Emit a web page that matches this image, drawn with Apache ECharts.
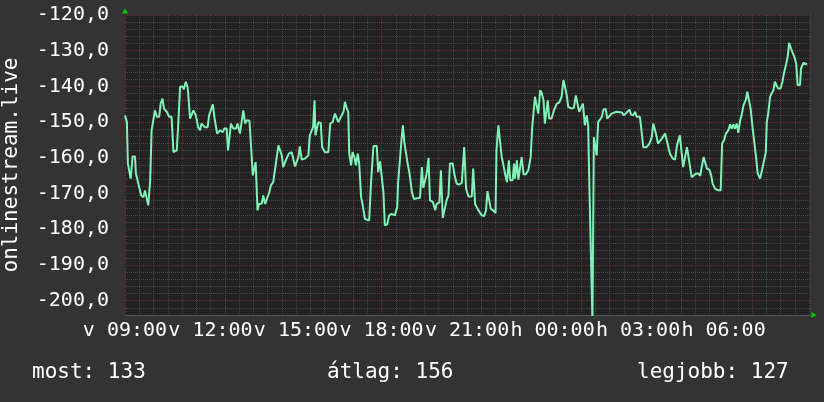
<!DOCTYPE html>
<html>
<head>
<meta charset="utf-8">
<script src="https://cdn.jsdelivr.net/npm/echarts@6/dist/echarts.min.js"></script>
<style>
  html, body { margin: 0; padding: 0; background: #333333; }
  #chart { width: 824px; height: 402px; }
</style>
</head>
<body>
<div id="chart"></div>
<script>
// minutes since 09:00 (Sunday)
const minutes = [0,4,6,12,16,21,23,28,34,39,42,46,49,51,53,56,60,63,67,72,75,79,82,88,93,98,102,109,112,116,121,124,128,132,137,140,144,149,154,158,161,168,174,177,181,185,188,192,194,200,206,209,214,217,221,223,228,234,237,242,246,249,253,256,262,265,269,272,275,279,282,288,291,295,300,304,307,312,317,323,326,330,333,337,340,345,351,354,358,361,365,368,372,379,386,389,393,396,399,401,407,412,415,421,428,432,437,442,446,449,453,456,460,463,467,470,472,476,479,483,486,490,493,497,500,505,509,514,518,523,530,533,537,540,544,547,552,556,561,568,573,575,579,582,585,588,592,595,599,604,608,615,621,625,628,632,635,639,642,648,653,656,662,665,669,672,677,681,684,690,693,698,703,709,712,714,718,723,730,733,737,744,751,756,760,763,767,770,775,780,782,786,789,793,796,800,804,808,811,816,819,821,825,828,832,835,839,844,849,854,857,861,863,867,870,874,877,881,884,888,890,893,898,903,909,914,919,923,927,930,933,940,945,949,952,956,959,964,966,968,972,975,977,981,984,987,991,993,996,1000,1004,1007,1012,1015,1019,1024,1035,1046,1050,1056,1062,1065,1070,1074,1077,1084,1088,1091,1098,1104,1109,1112,1117,1122,1126,1130,1133,1137,1141,1144,1147,1153,1158,1162,1165,1168,1172,1175,1179,1183,1186,1189,1193,1196,1202,1207,1211,1214,1218,1221,1225,1230,1234,1237,1242,1249,1254,1257,1261,1265,1270,1274,1277,1281,1284,1288,1291,1295,1298,1302,1307,1310,1314,1317,1321,1325,1328,1332,1337,1340,1344,1349,1351,1354,1358,1361,1365,1368,1372,1375,1380,1384,1387,1392,1395,1398,1402,1405,1409,1413,1416,1421,1423,1428,1432,1436];

const values = [
-148.1,-150.0,-161.6,-165.8,-159.6,-159.6,-164.4,-167.2,-170.5,-171,-169.1,-169.1,-173.3,-173.3,-166.3,-152.3,-151.8,-146.7,-148.5,-148.5,
-144.8,-143.4,-146.2,-147.1,-148.5,-148.5,-158.4,-157.9,-150.9,-140.1,-140,-140.8,-138.7,-140.3,-149.0,-149.0,-146.7,-148.1,-151.4,-152.3,
-150.4,-151.4,-151.4,-148.1,-148,-145.0,-148.5,-148.5,-153.2,-152.3,-152.8,-151.8,-151.8,-157.9,-157.9,-150.4,-151.8,-151.8,-150.4,-153.2,
-153.2,-146.7,-150.4,-149.5,-149.6,-149.6,-164.9,-164.9,-161.2,-174.7,-172.9,-172.8,-170.5,-172.9,-171,-169.6,-167.7,-166.8,-162.1,-156.5,
-156.3,-159.3,-162.6,-162.8,-160.2,-158.8,-158.4,-158.6,-162.4,-162.4,-159.8,-156.8,-160.5,-160.2,-159.3,-153.7,-153.3,-151.4,-143.9,-153.7,
-150,-150.2,-157,-158.4,-158.4,-150.4,-150,-147.6,-148.1,-150,-150.4,-148.1,-147.1,-144.3,-146.2,-147.1,-158.8,-162.1,-158.4,-159.8,
-162.1,-158.8,-161.6,-171,-172.9,-177.1,-177.5,-177.5,-166.8,-156.7,-156.7,-164,-161,-161,-169.6,-178.9,-178.6,-176.1,-175.7,-176.1,
-173.8,-166.8,-166.8,-155.1,-150.9,-155.6,-155.6,-161.6,-164.4,-169.6,-171.5,-171.3,-171.2,-162.6,-168.4,-168.4,-164.5,-160,-171.9,-172.3,
-174.7,-172.9,-172.5,-163.5,-176.8,-176.6,-171.9,-170.5,-161.6,-161.6,-164.4,-167.2,-167.5,-167,-167,-157,-168.6,-170.8,-170.8,-163,
-172.9,-174.7,-176.1,-176.3,-174.7,-169.3,-169.6,-174.3,-174.7,-175.5,-157.9,-150.9,-150.9,-159.8,-161.6,-164.4,-166.8,-160.7,-166.3,-166.3,
-161.6,-165.8,-160.7,-166.1,-166.1,-159.8,-164.6,-164.6,-163.5,-159.8,-151.8,-151.8,-142.9,-143.3,-147.6,-141.1,-141.8,-143.9,-150.4,-150.4,
-143.9,-149,-149,-146.7,-144.8,-144.5,-142.9,-138.2,-138.2,-142.5,-145.7,-146.2,-146,-142.5,-142.5,-147.1,-147.5,-144.8,-144.8,-150.9,
-148.1,-150.9,-164.4,-164.6,-206,-154.2,-154.2,-159.3,-150,-149.8,-148.5,-146.5,-146.3,-149,-148.5,-147.6,-147.1,-147.3,-148.1,-147.3,
-146.5,-147.8,-148.1,-147.1,-148.5,-148.5,-153.2,-157,-157,-156,-154.2,-150.4,-152.8,-156,-156,-154.6,-155,-153.2,-153.5,-157,
-158.8,-160.2,-160.5,-156.5,-156.8,-153.7,-158.8,-162.6,-162.6,-157,-157,-162.1,-165.4,-165,-164.4,-164.4,-165,-162.6,-159.8,-159.8,
-163,-163.3,-164.9,-167.2,-168.6,-169.1,-169.1,-156,-155.1,-153.2,-152.3,-150.6,-151.8,-150.6,-151.8,-150.4,-153,-149.5,-148.1,-145.3,
-143.7,-141.5,-141.5,-146.2,-151.4,-151.6,-159.3,-164.4,-165.8,-165.8,-161.6,-158.4,-150,-147.6,-142.9,-142,-141.1,-138.7,-139.2,-140.6,
-140.6,-138.7,-136.4,-133.6,-131.7,-127.8,-129.4,-129.6,-131.7,-133.6,-139.6,-139.6,-135,-133.4,-133.4,-133.8
];

// x tick labels every 3 hours
const xTickLabels = ['v 09:00','v 12:00','v 15:00','v 18:00','v 21:00','h 00:00','h 03:00','h 06:00'];
const yAxisTitle = 'onlinestream.live';
const statsLabels = ['most: 133', 'átlag: 156', 'legjobb: 127'];

const n = Math.min(minutes.length, values.length);
const seriesData = [];
for (let i = 0; i < n; i++) seriesData.push([minutes[i], values[i]]);

const MONO = '"DejaVu Sans Mono", monospace';
const MAJOR = '#6a3030';
const MINOR = '#484848';

const chart = echarts.init(document.getElementById('chart'), null, { renderer: 'canvas' });
chart.setOption({
  animation: false,
  backgroundColor: '#333333',
  grid: { left: 125, right: 14, top: 15, bottom: 87, show: true, backgroundColor: '#222222', borderWidth: 0 },
  xAxis: {
    type: 'value',
    min: 0, max: 1442, interval: 30,
    axisLine: { show: true, lineStyle: { color: '#555555', width: 1 } },
    axisTick: { show: false },
    splitLine: { show: true, lineStyle: { color: [MAJOR, MINOR], type: [1, 1], width: 1 } },
    axisLabel: {
      show: true, color: '#ffffff', fontFamily: MONO, fontSize: 20, margin: 6,
      hideOverlap: false, showMinLabel: true, showMaxLabel: false,
      formatter: function (v) {
        if (v % 180 !== 0) return '';
        const idx = v / 180;
        return idx < xTickLabels.length ? xTickLabels[idx] : '';
      }
    }
  },
  yAxis: {
    type: 'value',
    min: -204, max: -120, interval: 2,
    axisLine: { show: false },
    axisTick: { show: false },
    splitLine: { show: true, lineStyle: { color: [MINOR, MINOR, MAJOR, MINOR, MINOR], type: [1, 1], width: 1 } },
    axisLabel: {
      show: true, color: '#ffffff', fontFamily: MONO, fontSize: 20, margin: 16,
      hideOverlap: false,
      formatter: function (v) {
        if (Math.abs(v % 10) > 0.001) return '';
        return v.toFixed(1).replace('.', ',');
      }
    }
  },
  series: [{
    type: 'line',
    data: seriesData,
    symbol: 'none',
    smooth: false,
    clip: true,
    lineStyle: { color: '#80f2b8', width: 2 }
  }],
  graphic: [
    { type: 'text', x: 12, y: 165, rotation: Math.PI / 2,
      style: { text: yAxisTitle, fill: '#ffffff', font: '21px ' + MONO, align: 'center', verticalAlign: 'middle' } },
    { type: 'text', x: 32, y: 373,
      style: { text: statsLabels[0], fill: '#ffffff', font: '21px ' + MONO, align: 'left', verticalAlign: 'middle' } },
    { type: 'text', x: 327, y: 373,
      style: { text: statsLabels[1], fill: '#ffffff', font: '21px ' + MONO, align: 'left', verticalAlign: 'middle' } },
    { type: 'text', x: 637, y: 373,
      style: { text: statsLabels[2], fill: '#ffffff', font: '21px ' + MONO, align: 'left', verticalAlign: 'middle' } },
    { type: 'polygon', shape: { points: [[122, 13.5], [128, 13.5], [125, 8.5]] }, style: { fill: '#00cc00' } },
    { type: 'polygon', shape: { points: [[811.5, 312], [811.5, 318], [816.5, 315]] }, style: { fill: '#00cc00' } }
  ]
});
</script>
</body>
</html>
